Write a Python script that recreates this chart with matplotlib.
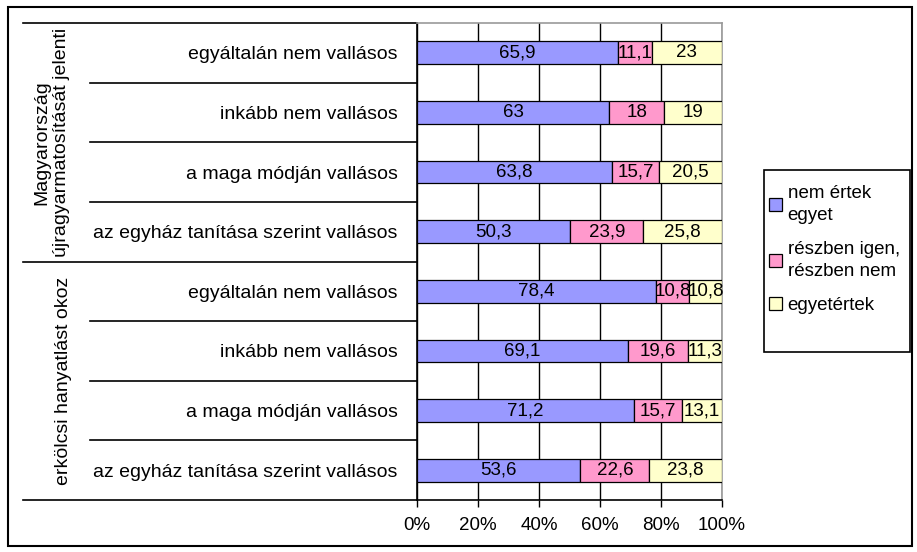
import matplotlib.pyplot as plt
import matplotlib.transforms as mtransforms
from matplotlib.patches import Rectangle
import numpy as np

plt.rcParams["font.family"] = ["Liberation Sans", "DejaVu Sans"]

# data, top to bottom
categories = [
    "egyáltalán nem vallásos",
    "inkább nem vallásos",
    "a maga módján vallásos",
    "az egyház tanítása szerint vallásos",
    "egyáltalán nem vallásos",
    "inkább nem vallásos",
    "a maga módján vallásos",
    "az egyház tanítása szerint vallásos",
]
groups = ["Magyarország\nújragyarmatosítását jelenti", "erkölcsi hanyatlást okoz"]
nem_ertek = [65.9, 63, 63.8, 50.3, 78.4, 69.1, 71.2, 53.6]
reszben = [11.1, 18, 15.7, 23.9, 10.8, 19.6, 15.7, 22.6]
egyetert = [23, 19, 20.5, 25.8, 10.8, 11.3, 13.1, 23.8]
series_names = ["nem értek\negyet", "részben igen,\nrészben nem", "egyetértek"]
colors = ["#9999FF", "#FF99CC", "#FFFFCC"]

FS = 14
W, H = 917, 552
fig = plt.figure(figsize=(W / 100, H / 100), dpi=100)
ax = fig.add_axes([417 / W, 1 - 500 / H, 305 / W, 477 / H])

y = np.arange(len(categories))
left = np.zeros(len(categories))
for vals, name, col in zip([nem_ertek, reszben, egyetert], series_names, colors):
    vals = np.asarray(vals, dtype=float)
    bars = ax.barh(y, vals, left=left, height=0.38, color=col,
                   edgecolor="black", linewidth=0.9, label=name, zorder=3)
    for b, v in zip(bars, vals):
        txt = f"{v:g}".replace(".", ",")
        ax.text(b.get_x() + b.get_width() / 2, b.get_y() + b.get_height() / 2,
                txt, ha="center", va="center", fontsize=13.5, zorder=4)
    left += vals

ax.set_xlim(0, 100)
ax.set_ylim(len(categories) - 0.5, -0.5)
ax.set_xticks(np.arange(0, 101, 20))
ax.set_xticklabels([f"{t}%" for t in range(0, 101, 20)], fontsize=13.5)
ax.set_yticks(y)
ax.set_yticklabels(categories, fontsize=FS)
ax.tick_params(axis="y", length=0, pad=14)
ax.tick_params(axis="x", length=5, width=1, direction="out", pad=7)
ax.grid(axis="x", color="black", linewidth=1, zorder=0)
for s in ["top", "right"]:
    ax.spines[s].set_color("#999999")
    ax.spines[s].set_linewidth(1.2)
ax.spines["left"].set_linewidth(1.2)
ax.spines["bottom"].set_linewidth(1.2)

# category separators and group labels
trans = mtransforms.blended_transform_factory(fig.transFigure, ax.transData)
for b in np.arange(-0.5, len(categories), 1.0):
    x0 = 23 / W if b in (-0.5, 3.5, 7.5) else 90 / W
    ax.plot([x0, 417 / W], [b, b], transform=trans, color="black",
            linewidth=1.2, clip_on=False)
ax.text(52 / W, 1.5, groups[0], transform=trans, rotation=90,
        ha="center", va="center", fontsize=FS, multialignment="center")
ax.text(63 / W, 5.5, groups[1], transform=trans, rotation=90,
        ha="center", va="center", fontsize=FS)

# legend: content without frame, Excel-style box drawn separately
leg = fig.legend(loc="upper left", bbox_to_anchor=(769 / W, 1 - 185 / H),
                 fontsize=13.5, frameon=False,
                 handlelength=0.7, handleheight=0.7, handletextpad=0.3,
                 labelspacing=0.9, borderpad=0, borderaxespad=0)
for t in leg.get_texts():
    t.set_linespacing(1.4)
fig.patches.append(Rectangle((764 / W, 1 - 352 / H), 146 / W, 182 / H,
                             transform=fig.transFigure, fill=False,
                             edgecolor="black", linewidth=1.2))

fig.patches.append(Rectangle((8 / W, 1 - 546 / H), 904 / W, 539 / H,
                             transform=fig.transFigure, fill=False,
                             edgecolor="black", linewidth=1.5))

fig.savefig("out.png", dpi=100)
